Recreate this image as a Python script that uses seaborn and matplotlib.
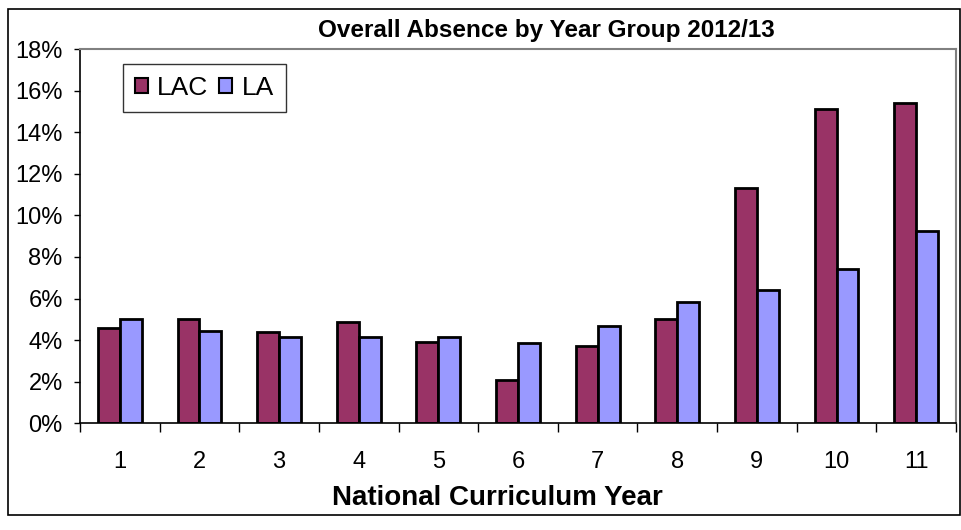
import numpy as np
import pandas as pd
import seaborn as sns
import matplotlib.pyplot as plt
from matplotlib.patches import Rectangle
from matplotlib.ticker import FuncFormatter, FixedLocator

# values (percent absence)
years = [str(i) for i in range(1, 12)]
lac = [4.6, 5.0, 4.4, 4.85, 3.9, 2.1, 3.7, 5.0, 11.3, 15.1, 15.4]
la = [5.0, 4.45, 4.15, 4.15, 4.15, 3.85, 4.7, 5.85, 6.4, 7.4, 9.25]

df = pd.DataFrame({
    'year': years * 2,
    'value': lac + la,
    'group': ['LAC'] * len(years) + ['LA'] * len(years),
})

sns.set_style('white')
plt.rcParams['font.family'] = ['Liberation Sans', 'DejaVu Sans']
plt.rcParams['text.color'] = 'black'
plt.rcParams['axes.labelcolor'] = 'black'
plt.rcParams['xtick.color'] = 'black'
plt.rcParams['ytick.color'] = 'black'

fig = plt.figure(figsize=(9.62, 5.30), dpi=100)
ax = fig.add_axes([80 / 962, 1 - 423.3 / 530, 876 / 962, (423.3 - 49) / 530])

sns.barplot(data=df, x='year', y='value', hue='group', order=years,
            hue_order=['LAC', 'LA'], palette={'LAC': '#993366', 'LA': '#9999FF'},
            width=0.55, edgecolor='black', linewidth=2.0, saturation=1,
            ax=ax)

ax.set_xlim(-0.5, 10.5)
ax.set_ylim(0, 18)
ax.set_yticks(np.arange(0, 19, 2))
ax.yaxis.set_major_formatter(FuncFormatter(lambda v, p: f'{v:.0f}%'))
ax.tick_params(axis='y', direction='out', length=4.5, width=1, colors='black',
               labelsize=17, pad=8, left=True)
ax.tick_params(axis='x', which='major', length=0, labelsize=17, pad=20)
ax.xaxis.set_minor_locator(FixedLocator(np.arange(-0.5, 11, 1)))
ax.tick_params(axis='x', which='minor', direction='out', length=6.5, width=1,
               bottom=True, color='black')

for side in ['left', 'bottom']:
    ax.spines[side].set_color('black')
    ax.spines[side].set_linewidth(1.2)
for side in ['top', 'right']:
    ax.spines[side].set_color('#808080')
    ax.spines[side].set_linewidth(1.5)

ax.set_ylabel('')
ax.set_xlabel('National Curriculum Year', fontsize=20, fontweight='bold')
ax.xaxis.set_label_coords((497 - 80) / 876, -0.165)

leg = ax.legend(loc='upper left', bbox_to_anchor=((123 - 80) / 876, 1 - (64 - 49) / 374.3),
                ncol=2, fontsize=19, frameon=True, fancybox=False, handlelength=0.5,
                handleheight=0.5, handletextpad=0.35, columnspacing=0.4,
                borderpad=0.45, borderaxespad=0)
leg.get_frame().set_edgecolor('black')
leg.get_frame().set_linewidth(1.0)
for h in leg.legend_handles:
    h.set_linewidth(1.5)

fig.text(546 / 962, 1 - 31 / 530, 'Overall Absence by Year Group 2012/13',
         ha='center', va='center', fontsize=17.5, fontweight='bold')

# outer chart border
fig.patches.append(Rectangle((8 / 962, 1 - 515 / 530), 952 / 962, 506 / 530,
                             transform=fig.transFigure, fill=False,
                             edgecolor='black', linewidth=1.2))

fig.savefig('out.png', dpi=100)
